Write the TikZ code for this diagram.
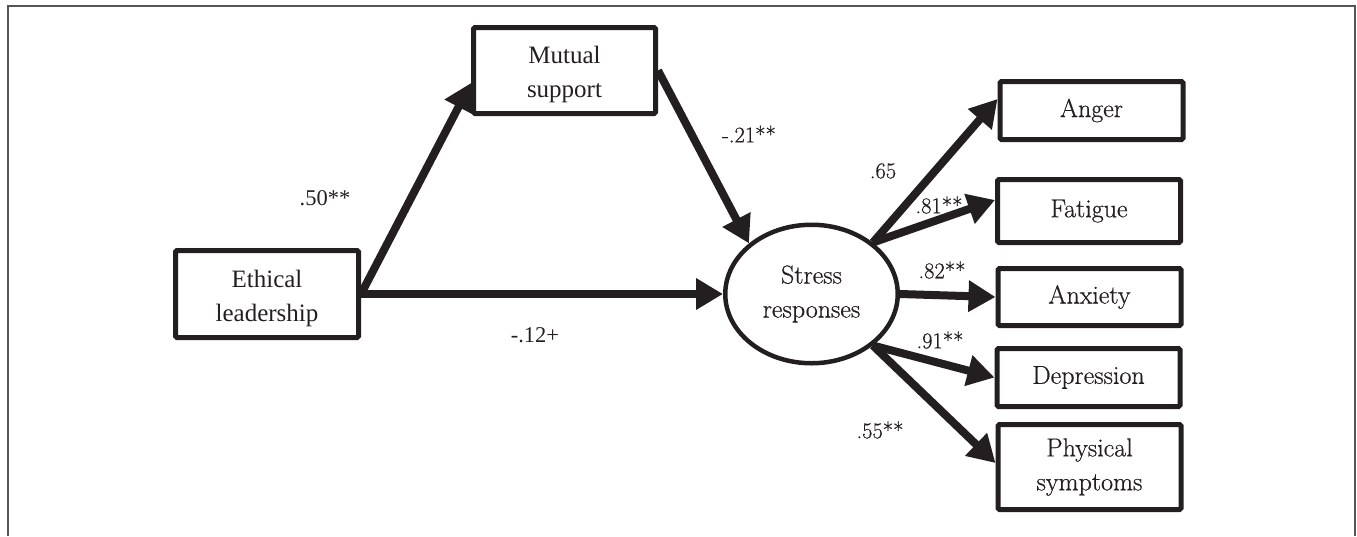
\documentclass[tikz,border=0pt]{standalone}
\usepackage{fontspec}
\newfontfamily\tms{Liberation Serif}
\newfontfamily\cent{Latin Modern Roman}[FakeBold=0.6]
\usetikzlibrary{arrows.meta,shapes.geometric,calc}
\definecolor{ink}{HTML}{231F20}
\definecolor{framec}{HTML}{555555}
\begin{document}
\begin{tikzpicture}[x=1pt,y=-1pt,
  box/.style={draw=ink, line width=5pt, rounded corners=1.5pt, inner sep=0pt, align=center, text=ink},
  ttext/.style={inner sep=0pt, align=center, text=ink, font=\tms\fontsize{25}{34}\selectfont},
  cbox/.style={box, font=\cent\fontsize{26}{34}\selectfont},
  rbox/.style={cbox, minimum width=183pt},
  arr/.style={draw=ink, line width=8pt, -{Triangle[length=27pt,width=30pt]}},
  labt/.style={inner sep=0pt, text=ink, font=\tms\fontsize{22.5}{26}\selectfont},
  labc/.style={inner sep=0pt, text=ink, font=\cent\fontsize{22.5}{26}\selectfont}]
\useasboundingbox (0,0) rectangle (1357,536);
\draw[framec, line width=1.5pt] (8,536) -- (8,6) -- (1355,6) -- (1355,536);

\node[box, minimum width=183pt, minimum height=87pt] (eth) at (267,294) {};
\node[ttext] (etht) at ($(eth.center)+(0,4)$) {Ethical\\leadership};
\node[box, minimum width=182pt, minimum height=86pt] (mut) at (564.5,70.5) {};
\node[ttext] (mutt) at ($(mut.center)+(0,4)$) {Mutual\\support};
\node[draw=ink, line width=4.5pt, ellipse, minimum width=172.5pt, minimum height=138.5pt,
      inner sep=0pt, align=center, text=ink, font=\cent\fontsize{26}{34}\selectfont] (str) at (811.5,294) {Stress\\responses};

\node[rbox, minimum height=58pt] (ang) at (1091.5,110.5) {Anger};
\node[rbox, minimum height=63pt] (fat) at (1089,211) {Fatigue};
\node[rbox, minimum height=57pt] (anx) at (1089.5,297) {Anxiety};
\node[rbox, minimum height=58pt] (dep) at (1088.5,377.5) {Depression};
\node[rbox, minimum height=85pt] (phy) at (1089.5,467) {Physical\\symptoms};

\draw[arr] (eth.east) -- ($(mut.west)+(0,12.5)$);
\draw[arr] (eth.east) -- (str.west);
\draw[arr] (mut.east) -- (str.141);
\draw[arr] (str.40) -- ($(ang.west)+(0,-11.5)$);
\draw[arr] (str.40) -- ($(fat.west)+(0,-11)$);
\draw[arr] (str.east) -- (anx.west);
\draw[arr] (str.-40) -- (dep.west);
\draw[arr] (str.-40) -- ($(phy.west)+(0,-4)$);

\node[labt] (l50) at (325,198) {.50**};
\node[labt] (l12) at (535,335) {-.12+};
\node[labc] (l21) at (749,134) {-.21**};
\node[labc] (l65) at (883,171) {.65};
\node[labc] (l81) at (939,205) {.81**};
\node[labc] (l82) at (942,270) {.82**};
\node[labc] (l91) at (940,340) {.91**};
\node[labc] (l55) at (880,430) {.55**};
\end{tikzpicture}
\end{document}
